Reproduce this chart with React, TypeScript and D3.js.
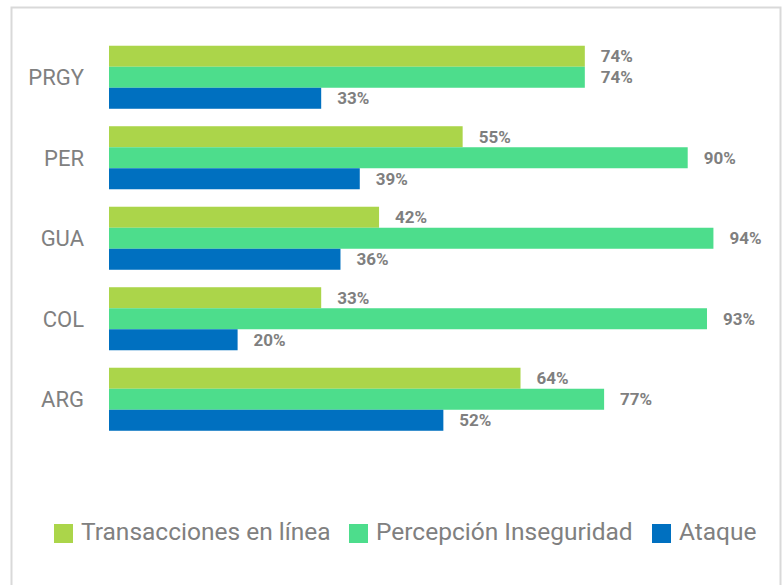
import { useEffect, useRef } from 'react'
import * as d3 from 'd3'

const categories = ['PRGY', 'PER', 'GUA', 'COL', 'ARG']
const seriesNames = ['Transacciones en línea', 'Percepción Inseguridad', 'Ataque']
const seriesColors = ['#abd54a', '#4ddd8c', '#0070c0']
const transacciones = [74, 55, 42, 33, 64]
const percepcion = [74, 90, 94, 93, 77]
const ataque = [33, 39, 36, 20, 52]
const legendX = [54, 349, 652]

const WIDTH = 782
const HEIGHT = 585
const FONT = 'Roboto, "DejaVu Sans", sans-serif'

export default function App() {
  const svgRef = useRef<SVGSVGElement | null>(null)

  useEffect(() => {
    const svgEl = svgRef.current
    if (!svgEl) return
    const svg = d3.select(svgEl)
    svg.selectAll('*').remove()

    const values = [transacciones, percepcion, ataque]

    // frame (no bottom edge visible)
    svg
      .append('path')
      .attr('d', `M11.5,${HEIGHT + 2} V7.5 H780.5 V${HEIGHT + 2}`)
      .attr('fill', 'none')
      .attr('stroke', '#d9d9d9')
      .attr('stroke-width', 2)

    const x = d3.scaleLinear().domain([0, 100]).range([109, 752])
    const y = d3
      .scaleBand<string>()
      .domain(categories)
      .range([37, 439.5])
      .paddingInner(0.217)
      .paddingOuter(0.1085)
    const inner = d3
      .scaleBand<number>()
      .domain([0, 1, 2])
      .range([0, y.bandwidth()])

    const g = svg.append('g')
    categories.forEach((cat, ci) => {
      const y0 = y(cat) ?? 0
      values.forEach((vals, si) => {
        const v = vals[ci]
        const by = y0 + (inner(si) ?? 0)
        g.append('rect')
          .attr('x', x(0))
          .attr('y', by)
          .attr('width', x(v) - x(0))
          .attr('height', inner.bandwidth())
          .attr('fill', seriesColors[si])
        g.append('text')
          .attr('x', x(v) + 16)
          .attr('y', by + inner.bandwidth() / 2)
          .attr('dy', '0.36em')
          .attr('font-family', FONT)
          .attr('font-weight', 'bold')
          .attr('font-size', 17)
          .attr('fill', '#7f7f7f')
          .text(`${v}%`)
      })
      g.append('text')
        .attr('x', 84)
        .attr('y', y0 + y.bandwidth() / 2)
        .attr('dy', '0.36em')
        .attr('text-anchor', 'end')
        .attr('font-family', FONT)
        .attr('font-size', 22)
        .attr('fill', '#808080')
        .text(cat)
    })

    const legend = svg.append('g')
    seriesNames.forEach((name, i) => {
      legend
        .append('rect')
        .attr('x', legendX[i])
        .attr('y', 524)
        .attr('width', 19)
        .attr('height', 19)
        .attr('fill', seriesColors[i])
      legend
        .append('text')
        .attr('x', legendX[i] + 27)
        .attr('y', 540)
        .attr('font-family', FONT)
        .attr('font-size', 24.5)
        .attr('fill', '#808080')
        .text(name)
    })
  }, [])

  return (
    <div style={{ position: 'absolute', left: 0, top: 0, width: WIDTH, height: HEIGHT, background: '#fff' }}>
      <svg ref={svgRef} width={WIDTH} height={HEIGHT} />
    </div>
  )
}
